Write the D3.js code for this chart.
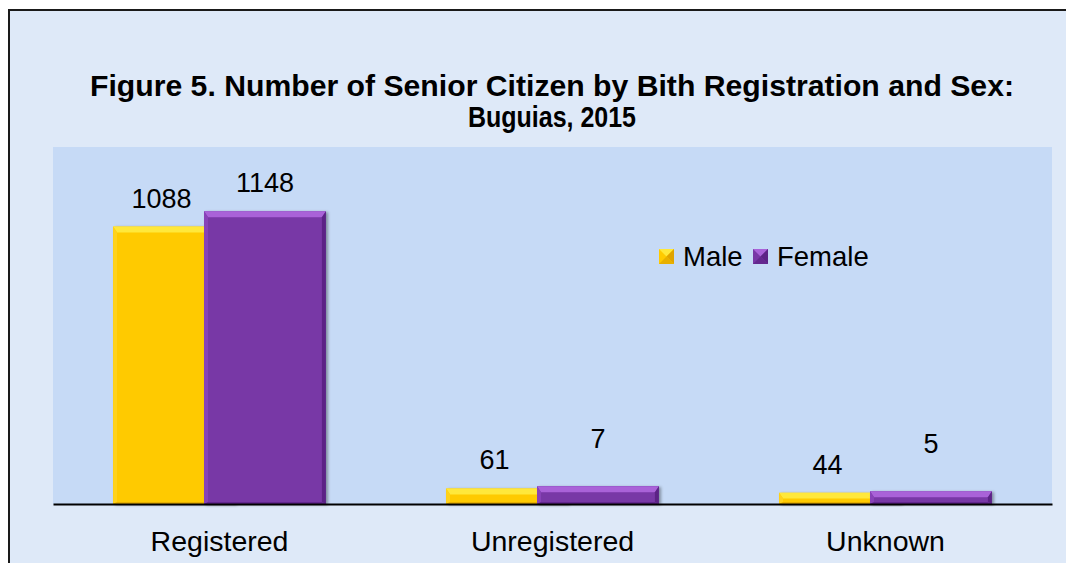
<!DOCTYPE html>
<html>
<head>
<meta charset="utf-8">
<script src="https://cdnjs.cloudflare.com/ajax/libs/d3/7.8.5/d3.min.js"></script>
<style>
  body { margin: 0; background: #fff; }
  text { font-family: "Liberation Sans", Arial, sans-serif; fill: #000; }
</style>
</head>
<body>
<svg id="chart" width="1066" height="563"></svg>
<script>
var categories = ["Registered", "Unregistered", "Unknown"];
var seriesNames = ["Male", "Female"];
var male = [1088, 61, 44];
// bar heights as drawn in the picture (the small female bars are taller than their labels say)
var female = [1148, 70, 50];
var maleLabels = ["1088", "61", "44"];
var femaleLabels = ["1148", "7", "5"];
var titleLines = ["Figure 5. Number of Senior Citizen by Bith Registration and Sex:", "Buguias, 2015"];

var svg = d3.select("svg"),
    plot = {left: 53, right: 1052, top: 147, bottom: 504};

var colors = {
  Male:   {base: "#FFCA00", top: "#FFE83A", left: "#FFD21A", right: "#E0A400", bottom: "#E8B000"},
  Female: {base: "#7837A6", top: "#A962D8", left: "#8843B8", right: "#5C2486", bottom: "#64288F"}
};

var defs = svg.append("defs");
var f = defs.append("filter").attr("id", "shadow").attr("x", "-10%").attr("y", "-10%").attr("width", "130%").attr("height", "130%");
f.append("feDropShadow").attr("dx", 2).attr("dy", 1).attr("stdDeviation", 1.5).attr("flood-color", "#000").attr("flood-opacity", 0.35);

// outer chart area
svg.append("rect").attr("x", 9).attr("y", 10).attr("width", 1070).attr("height", 570)
  .attr("fill", "#DEE9F8").attr("stroke", "#1a1a1a").attr("stroke-width", 2);

// plot area
svg.append("rect").attr("x", plot.left).attr("y", plot.top)
  .attr("width", plot.right - plot.left).attr("height", plot.bottom - plot.top)
  .attr("fill", "#C6DAF6");

// title, fitted to the widths measured on the original (a narrow bold face)
var titleWidths = [924, 168];
svg.append("g").selectAll("text").data(titleLines).enter().append("text")
  .attr("x", 552).attr("y", function(d, i) { return 96 + i * 31; })
  .attr("text-anchor", "middle")
  .attr("textLength", function(d, i) { return titleWidths[i]; })
  .attr("lengthAdjust", "spacingAndGlyphs")
  .style("font-size", "30px").style("font-weight", "bold")
  .text(function(d) { return d; });

var x = d3.scaleBand().domain(categories).range([plot.left, plot.right]);
var y = d3.scaleLinear().domain([0, 1400]).range([plot.bottom, plot.top]);

var barW = x.bandwidth() * 0.366,
    overlap = x.bandwidth() * 0.093;

// group is 2*barW - overlap wide, centred on the category; female drawn over male
function bx(cat, s) {
  var c = x(cat) + x.bandwidth() / 2,
      g = 2 * barW - overlap;
  return c - g / 2 + s * (barW - overlap);
}

function bevelBar(sel, x0, y0, w, h, col) {
  var b = Math.min(6, h / 2), bs = Math.min(4, w / 2),
      x1 = x0 + w, y1 = y0 + h;
  var g = sel.append("g").attr("filter", "url(#shadow)");
  g.append("rect").attr("x", x0).attr("y", y0).attr("width", w).attr("height", h).attr("fill", col.base);
  g.append("polygon").attr("fill", col.top)
    .attr("points", [[x0, y0], [x1, y0], [x1 - bs, y0 + b], [x0 + bs, y0 + b]].join(" "));
  g.append("polygon").attr("fill", col.left)
    .attr("points", [[x0, y0], [x0 + bs, y0 + b], [x0 + bs, y1 - 2], [x0, y1]].join(" "));
  g.append("polygon").attr("fill", col.right)
    .attr("points", [[x1, y0], [x1 - bs, y0 + b], [x1 - bs, y1 - 2], [x1, y1]].join(" "));
  g.append("polygon").attr("fill", col.bottom)
    .attr("points", [[x0, y1], [x0 + bs, y1 - 2], [x1 - bs, y1 - 2], [x1, y1]].join(" "));
}

var bars = svg.append("g");
[male, female].forEach(function(vals, s) {
  categories.forEach(function(cat, i) {
    var top = y(vals[i]);
    bevelBar(bars, bx(cat, s), top, barW, plot.bottom - top, colors[seriesNames[s]]);
  });
});

// data labels
var labels = svg.append("g").style("font-size", "27px").attr("text-anchor", "middle");
categories.forEach(function(cat, i) {
  labels.append("text")
    .attr("x", bx(cat, 0) + (barW - overlap) / 2 + 3)
    .attr("y", y(male[i]) - 19)
    .text(maleLabels[i]);
  // the small female labels were lifted by hand in the original
  labels.append("text")
    .attr("x", bx(cat, 1) + barW / 2)
    .attr("y", y(female[i]) - (female[i] < 200 ? 38 : 19))
    .text(femaleLabels[i]);
});

// x axis
svg.append("g")
  .attr("transform", "translate(0," + plot.bottom + ")")
  .call(d3.axisBottom(x).tickSize(0).tickPadding(27))
  .call(function(g) {
    g.select(".domain").attr("stroke", "#000").attr("stroke-width", 2);
    g.selectAll("text").style("font-size", "28.5px").attr("font-family", "Liberation Sans, Arial, sans-serif");
  });

// legend
var legend = svg.append("g").attr("transform", "translate(659,249)");
var lx = [0, 94];
seriesNames.forEach(function(name, i) {
  var item = legend.append("g").attr("transform", "translate(" + lx[i] + ",0)");
  var c = colors[name], s = 15;
  item.append("rect").attr("width", s).attr("height", s).attr("fill", c.base);
  item.append("polygon").attr("fill", c.top).attr("points", [[0, 0], [s, 0], [s / 2, s / 2]].join(" "));
  item.append("polygon").attr("fill", c.right).attr("points", [[s, 0], [s, s], [s / 2, s / 2]].join(" "));
  item.append("polygon").attr("fill", c.bottom).attr("points", [[0, s], [s, s], [s / 2, s / 2]].join(" "));
  item.append("text").attr("x", 24).attr("y", 17).style("font-size", "27.5px").text(name);
});
</script>
</body>
</html>
